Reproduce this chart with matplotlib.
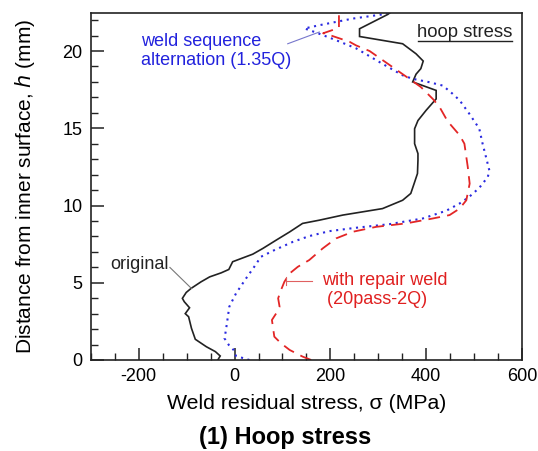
import matplotlib
matplotlib.use("Agg")
import matplotlib.pyplot as plt
from matplotlib.ticker import MultipleLocator

plt.rcParams['font.family'] = ['Liberation Sans', 'DejaVu Sans']
plt.rcParams['axes.unicode_minus'] = False

# original (black solid)
orig_s = [-35, -30, -40, -59, -82, -90, -96, -103, -94, -105, -109, -101, -91, -70, -52, -28, -12, -4,
          38, 59, 87, 115, 142, 177, 226, 309, 351, 368, 375, 382, 383, 383, 376, 376, 383, 400, 421,
          421, 372, 379, 389, 394, 379, 351, 261, 261, 320, 330]
orig_h = [0, 0.26, 0.54, 0.86, 1.34, 2.05, 2.8, 3.0, 3.38, 3.77, 3.99, 4.37, 4.63, 5.06, 5.38, 5.64, 5.86, 6.36,
          6.85, 7.22, 7.76, 8.29, 8.84, 9.05, 9.38, 9.8, 10.34, 10.78, 11.42, 12.07, 12.93, 13.36, 14.0, 14.97, 15.5, 16.16, 16.9,
          17.45, 18.0, 18.5, 18.86, 19.35, 19.82, 20.47, 20.94, 21.44, 22.37, 22.6]

# weld sequence alternation (blue dotted)
alt_s = [31, 3, -2, -12, -21, -18, -14, -11, 3, 24, 41, 55, 83, 122, 156, 198, 254, 323, 393, 442, 470,
         490, 511, 529, 532, 525, 518, 511, 490, 470, 455, 435, 407, 372, 351, 309, 254, 212, 170, 146,
         177, 247, 309, 330]
alt_h = [0, 0.26, 0.65, 0.97, 1.4, 1.94, 2.8, 3.45, 4.31, 5.28, 6.03, 6.68, 7.11, 7.65, 8.02, 8.34, 8.56, 8.79, 9.16, 9.66, 10.13,
         10.56, 11.14, 11.85, 12.28, 13.15, 14.0, 14.98, 15.95, 16.81, 17.24, 17.76, 17.98, 18.2, 18.43, 19.17, 20.17, 20.7, 21.2, 21.46,
         21.67, 22.1, 22.37, 22.6]

# with repair weld (red dashed)
rep_s = [160, 142, 115, 97, 83, 80, 78, 87, 94, 91, 97, 104, 115, 132, 156, 184, 212, 247, 296, 358, 414,
         449, 470, 484, 491, 487, 480, 470, 445, 428, 414, 389, 365, 330, 282, 254, 240, 195, 185, 218, 218]
rep_h = [0, 0.22, 0.65, 1.08, 1.51, 2.16, 2.59, 3.02, 3.45, 3.99, 4.53, 5.06, 5.6, 6.03, 6.47, 7.22, 7.87, 8.3, 8.62, 8.84, 9.16,
         9.38, 9.8, 10.34, 11.42, 12.5, 14.0, 14.55, 15.45, 16.38, 16.9, 17.67, 18.2, 18.96, 20.0, 20.36, 20.6, 21.07, 21.15, 21.5, 22.6]

x_ticks = [-200, 0, 200, 400, 600]
y_ticks = [0, 5, 10, 15, 20]

fig = plt.figure(figsize=(5.38, 4.51), dpi=100)
ax = fig.add_axes([0.169, 0.2018, 0.801, 0.769])

ax.plot(orig_s, orig_h, color='#222222', lw=1.2, solid_joinstyle='miter')
ax.plot(alt_s, alt_h, color='#2a2ae0', lw=1.5, linestyle=(0, (1, 2.2)))
ax.plot(rep_s, rep_h, color='#e32626', lw=1.3, linestyle=(0, (6.5, 4)))

ax.set_xlim(-300, 600)
ax.set_ylim(0, 22.45)
ax.set_xticks(x_ticks)
ax.set_yticks(y_ticks)
ax.xaxis.set_minor_locator(MultipleLocator(50))
ax.yaxis.set_minor_locator(MultipleLocator(1))
ax.tick_params(which='both', direction='in', labelsize=13, top=False, right=False, color='#222222')
ax.tick_params(which='major', length=9, width=1.1, pad=6)
ax.tick_params(which='minor', length=5, width=1.0)
for sp in ax.spines.values():
    sp.set_linewidth(1.2)
    sp.set_color('#222222')

ax.set_xlabel('Weld residual stress, \u03c3 (MPa)', fontsize=15.3, labelpad=6)
ax.set_ylabel('Distance from inner surface, $\\mathit{h}$ (mm)', fontsize=15, labelpad=18)
fig.text(0.53, 0.031, '(1) Hoop stress', fontsize=17, fontweight='bold',
         ha='center', va='center')

# annotations
ax.text(0.977, 0.944, 'hoop stress', transform=ax.transAxes, fontsize=13.3, ha='right', va='center', color='#222222')
ax.plot([0.760, 0.977], [0.921, 0.921], transform=ax.transAxes, color='#222222', lw=1.0)

ax.text(-196, 20.0, 'weld sequence\nalternation (1.35Q)', fontsize=13, color='#2222dd',
        ha='left', va='center', linespacing=1.1)
ax.plot([111, 177], [20.47, 21.23], color='#7777cc', lw=0.8)

ax.text(-260, 6.15, 'original', fontsize=13, color='#222222', ha='left', va='center')
ax.plot([-135, -90], [5.99, 4.63], color='#777777', lw=0.8)

ax.text(182, 4.53, 'with repair weld\n (20pass-2Q)', fontsize=13, color='#e02020',
        ha='left', va='center', linespacing=1.1)
ax.plot([108, 162], [5.1, 5.1], color='#e06060', lw=0.8)
ax.plot([108, 108], [4.85, 5.35], color='#e06060', lw=0.8)

fig.savefig('out.png', dpi=100)
